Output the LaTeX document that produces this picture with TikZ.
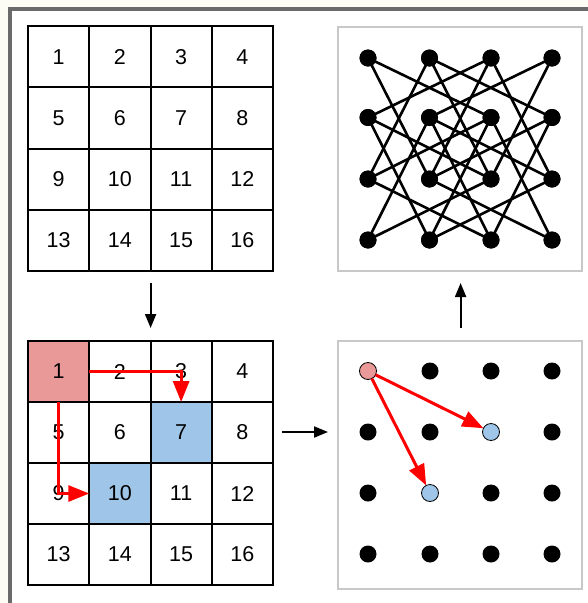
\documentclass[tikz,border=0pt]{standalone}
\usepackage{fontspec}
\setmainfont{Liberation Sans}
\usetikzlibrary{arrows.meta}
\definecolor{cream}{HTML}{FCFBF4}
\definecolor{frame}{HTML}{6A6A6A}
\definecolor{boxgray}{HTML}{C8C8C8}
\definecolor{pinkc}{HTML}{EA9999}
\definecolor{bluec}{HTML}{9FC5E8}
\definecolor{redc}{HTML}{FF0000}
\tikzset{
  cell/.style={draw=black, line width=2pt, minimum width=61.25pt, minimum height=61.25pt, outer sep=0pt, inner sep=0pt, font=\fontsize{21.5}{24}\selectfont},
  bcell/.style={cell, minimum height=61pt},
  dot/.style={circle, fill=black, minimum size=17pt, inner sep=0pt, outer sep=0pt},
  cdot/.style={circle, draw=black, line width=0.8pt, minimum size=17pt, inner sep=0pt, outer sep=0pt},
  edge/.style={line width=2.6pt, black},
  redarrow/.style={draw=redc, line width=3pt, -{Triangle[length=21pt,width=16pt]}},
  flow/.style={line width=2pt, -{Triangle[length=14pt,width=11pt]}},
  panel/.style={draw=boxgray, line width=1.2pt, fill=white}
}
\begin{document}
\begin{tikzpicture}[x=1pt,y=-1pt]
\useasboundingbox (0,0) rectangle (588,603);
\fill[cream] (0,0) rectangle (588,603);
\fill[white] (10,9) rectangle (588,603);
\draw[frame, line width=4pt] (10.3,603) -- (10.3,9.3) -- (588,9.3);

% top-left grid
\foreach \r in {0,1,2,3}{
  \foreach \c in {0,1,2,3}{
    \pgfmathtruncatemacro{\n}{\r*4+\c+1}
    \node[cell] (c\n) at ({28+30.625+61.25*\c},{26+30.625+61.25*\r}) {\n};
  }
}

% bottom-left grid
\foreach \r in {0,1,2,3}{
  \foreach \c in {0,1,2,3}{
    \pgfmathtruncatemacro{\n}{\r*4+\c+1}
    \ifnum\n=1
      \node[bcell, fill=pinkc] (d\n) at ({28+30.625+61.25*\c},{341+30.5+61*\r}) {\n};
    \else\ifnum\n=7
      \node[bcell, fill=bluec] (d\n) at ({28+30.625+61.25*\c},{341+30.5+61*\r}) {\n};
    \else\ifnum\n=10
      \node[bcell, fill=bluec] (d\n) at ({28+30.625+61.25*\c},{341+30.5+61*\r}) {\n};
    \else
      \node[bcell] (d\n) at ({28+30.625+61.25*\c},{341+30.5+61*\r}) {\n};
    \fi\fi\fi
  }
}
\draw[redarrow] (d1.east) -| (d7.north);
\draw[redarrow] (d1.south) |- (d10.west);

% top-right panel
\draw[panel] (338,27) rectangle (582,271);
\foreach \r/\y in {0/58,1/117.5,2/179,3/240}{
  \foreach \c/\x in {0/368,1/429.5,2/491,3/552}{
    \node[dot] (g\r\c) at (\x,\y) {};
  }
}
\foreach \r in {0,1,2,3}{
  \foreach \c in {0,1,2,3}{
    \foreach \dr/\dc in {1/2,1/-2,2/1,2/-1}{
      \pgfmathtruncatemacro{\rr}{\r+\dr}
      \pgfmathtruncatemacro{\cc}{\c+\dc}
      \ifnum\rr<4 \ifnum\cc>-1 \ifnum\cc<4
        \draw[edge] (g\r\c.center) -- (g\rr\cc.center);
      \fi\fi\fi
    }
  }
}
\foreach \r/\y in {0/58,1/117.5,2/179,3/240}{
  \foreach \c/\x in {0/368,1/429.5,2/491,3/552}{
    \node[dot] at (\x,\y) {};
  }
}

% bottom-right panel
\draw[panel] (338,341) rectangle (582,589);
\foreach \r/\y in {0/371,1/432,2/493,3/554}{
  \foreach \c/\x in {0/368,1/430,2/491,3/552}{
    \ifnum\r\c=00
      \node[cdot, fill=pinkc] (h\r\c) at (\x,\y) {};
    \else\ifnum\r\c=12
      \node[cdot, fill=bluec] (h\r\c) at (\x,\y) {};
    \else\ifnum\r\c=21
      \node[cdot, fill=bluec] (h\r\c) at (\x,\y) {};
    \else
      \node[dot] (h\r\c) at (\x,\y) {};
    \fi\fi\fi
  }
}
\draw[redarrow] (h00) -- (h12);
\draw[redarrow] (h00) -- (h21);

% flow arrows
\coordinate (a1s) at (150.6,283);
\coordinate (a1e) at (150.6,328);
\draw[flow] (a1s) -- (a1e);
\coordinate (a2s) at (282,432);
\coordinate (a2e) at (328,432);
\draw[flow] (a2s) -- (a2e);
\coordinate (a3s) at (460.6,328);
\coordinate (a3e) at (460.6,283);
\draw[flow] (a3s) -- (a3e);
\end{tikzpicture}
\end{document}
